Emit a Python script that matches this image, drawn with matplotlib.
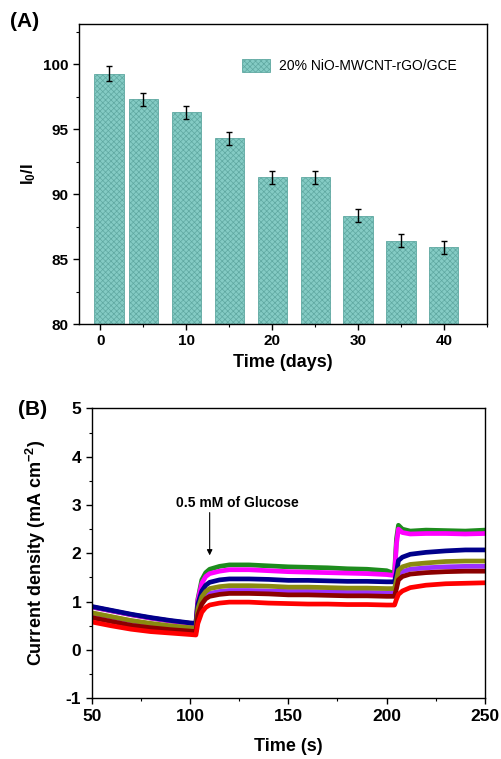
import matplotlib
matplotlib.use("Agg")
import matplotlib.pyplot as plt
from matplotlib.ticker import MultipleLocator

plt.rcParams['font.family'] = ['Liberation Sans', 'DejaVu Sans']
plt.rcParams['font.weight'] = 'bold'
plt.rcParams['mathtext.fontset'] = 'custom'
plt.rcParams['mathtext.rm'] = 'Liberation Sans:bold'
plt.rcParams['mathtext.it'] = 'Liberation Sans:bold'
plt.rcParams['mathtext.bf'] = 'Liberation Sans:bold'
plt.rcParams['hatch.linewidth'] = 0.5
plt.rcParams['axes.unicode_minus'] = False

# ---------- Panel A data ----------
days = [1, 5, 10, 15, 20, 25, 30, 35, 40]
ratio = [99.3, 97.3, 96.3, 94.3, 91.3, 91.3, 88.35, 86.4, 85.9]
ratio_err = [0.55, 0.5, 0.5, 0.5, 0.5, 0.5, 0.5, 0.5, 0.5]
legend_label = "20% NiO-MWCNT-rGO/GCE"

# ---------- Panel B data ----------
time_s = [50, 60, 70, 80, 90, 100, 103, 104, 106, 108, 110, 115, 120, 130, 140,
          150, 160, 170, 180, 190, 200, 204, 205, 206, 208, 212, 220, 230, 240, 250]
green = [0.89, 0.81, 0.73, 0.66, 0.60, 0.55, 0.54, 1.05, 1.45, 1.60, 1.67, 1.73, 1.76, 1.76, 1.74,
         1.72, 1.71, 1.70, 1.68, 1.67, 1.64, 1.58, 2.30, 2.58, 2.50, 2.46, 2.48, 2.47, 2.46, 2.48]
magenta = [0.89, 0.81, 0.73, 0.66, 0.60, 0.55, 0.54, 1.02, 1.38, 1.52, 1.58, 1.63, 1.66, 1.66, 1.64,
           1.62, 1.61, 1.60, 1.59, 1.58, 1.56, 1.54, 2.20, 2.50, 2.43, 2.40, 2.41, 2.41, 2.40, 2.41]
purple = [0.76, 0.68, 0.60, 0.54, 0.49, 0.45, 0.44, 0.80, 1.02, 1.12, 1.17, 1.21, 1.23, 1.23, 1.22,
          1.21, 1.21, 1.20, 1.19, 1.19, 1.18, 1.18, 1.36, 1.55, 1.62, 1.67, 1.70, 1.72, 1.73, 1.73]
blue = [0.90, 0.82, 0.74, 0.67, 0.61, 0.56, 0.55, 0.95, 1.22, 1.34, 1.40, 1.45, 1.47, 1.47, 1.46,
        1.44, 1.44, 1.43, 1.42, 1.42, 1.41, 1.41, 1.60, 1.85, 1.92, 1.98, 2.02, 2.05, 2.07, 2.07]
olive = [0.77, 0.69, 0.61, 0.55, 0.50, 0.46, 0.45, 0.85, 1.10, 1.21, 1.27, 1.31, 1.33, 1.33, 1.32,
         1.30, 1.30, 1.29, 1.28, 1.28, 1.27, 1.27, 1.45, 1.65, 1.72, 1.77, 1.80, 1.83, 1.84, 1.84]
darkred = [0.67, 0.59, 0.51, 0.46, 0.42, 0.39, 0.38, 0.72, 0.95, 1.06, 1.11, 1.15, 1.17, 1.17, 1.16,
           1.14, 1.14, 1.13, 1.12, 1.12, 1.11, 1.11, 1.27, 1.45, 1.52, 1.57, 1.60, 1.62, 1.63, 1.63]
red = [0.58, 0.50, 0.43, 0.38, 0.35, 0.32, 0.31, 0.55, 0.78, 0.88, 0.93, 0.97, 0.99, 0.99, 0.97,
       0.96, 0.95, 0.95, 0.94, 0.94, 0.93, 0.93, 1.05, 1.15, 1.22, 1.29, 1.34, 1.37, 1.38, 1.39]

series = [green, magenta, purple, blue, olive, darkred, red]
colors = ['#1e8c1e', '#ff00ff', '#9b30ff', '#00008b', '#8a8a10', '#8b0000', '#ff0000']

fig = plt.figure(figsize=(5.01, 7.59), dpi=100)

# ---------- Panel A ----------
axA = fig.add_axes([0.1577, 0.5731, 0.814, 0.395])
axA.bar(days, ratio, width=3.4, color='#84cbc4', edgecolor='#5fa8a1',
        hatch='xxxxxx', linewidth=0.6, label=legend_label, zorder=2)
axA.errorbar(days, ratio, yerr=ratio_err, fmt='none', ecolor='black',
             elinewidth=1.0, capsize=2.5, capthick=1.0, zorder=3)
axA.set_xlim(-2.5, 45)
axA.set_ylim(80, 103.1)
axA.xaxis.set_major_locator(MultipleLocator(10))
axA.xaxis.set_minor_locator(MultipleLocator(5))
axA.yaxis.set_major_locator(MultipleLocator(5))
axA.yaxis.set_minor_locator(MultipleLocator(2.5))
axA.tick_params(axis='both', which='major', direction='out', length=4, width=1,
                labelsize=11)
axA.tick_params(axis='both', which='minor', direction='out', length=2, width=0.8)
axA.set_xlabel('Time (days)', fontsize=13, fontweight='bold', labelpad=4)
axA.set_ylabel(r'I$_0$/I', fontsize=12, fontweight='bold', labelpad=4)
leg = axA.legend(loc='upper left', bbox_to_anchor=(0.37, 0.925), frameon=False,
                 prop={'size': 10, 'weight': 'normal'}, handlelength=2.0,
                 handleheight=1.0, handletextpad=0.6)
for sp in axA.spines.values():
    sp.set_linewidth(1.0)
fig.text(0.02, 0.972, '(A)', fontsize=15, fontweight='bold', va='center', ha='left')

# ---------- Panel B ----------
axB = fig.add_axes([0.183, 0.080, 0.785, 0.382])
for vals, c in zip(series, colors):
    axB.plot(time_s, vals, color=c, lw=3.4, solid_joinstyle='round')
axB.set_xlim(50, 250)
axB.set_ylim(-1, 5)
axB.xaxis.set_major_locator(MultipleLocator(50))
axB.xaxis.set_minor_locator(MultipleLocator(25))
axB.yaxis.set_major_locator(MultipleLocator(1))
axB.yaxis.set_minor_locator(MultipleLocator(0.5))
axB.tick_params(axis='both', which='major', direction='out', length=4, width=1,
                labelsize=12.5)
axB.tick_params(axis='both', which='minor', direction='out', length=2, width=0.8)
axB.set_xlabel('Time (s)', fontsize=13, fontweight='bold', labelpad=10)
axB.set_ylabel(r'Current density (mA cm$^{-2}$)', fontsize=13, fontweight='bold', labelpad=13)
axB.annotate('', xy=(110, 1.9), xytext=(110, 2.9),
             arrowprops=dict(arrowstyle='-|>', color='black', lw=0.8, mutation_scale=8))
axB.text(124, 3.05, '0.5 mM of Glucose', fontsize=10, fontweight='bold',
         ha='center', va='center')
for sp in axB.spines.values():
    sp.set_linewidth(1.0)
fig.text(0.035, 0.46, '(B)', fontsize=15, fontweight='bold', va='center', ha='left')

fig.savefig('out.png', dpi=100)
